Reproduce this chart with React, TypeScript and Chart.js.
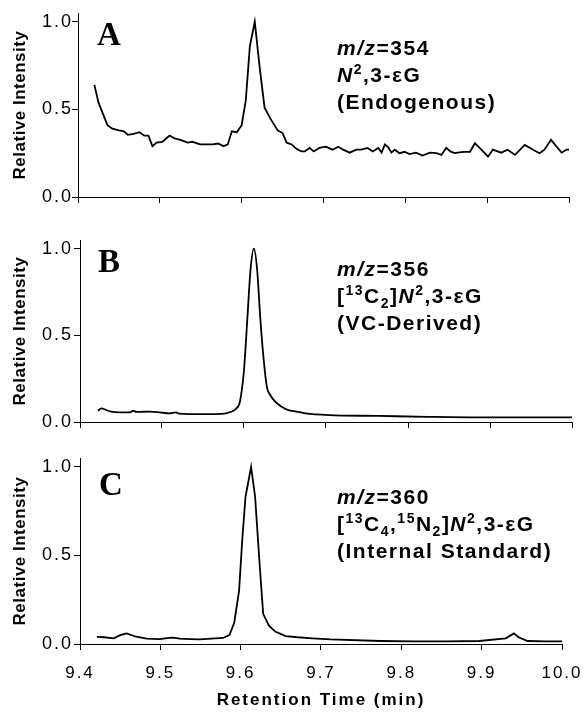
import React, { useEffect, useRef } from 'react';
import { Chart, registerables } from 'chart.js';

Chart.register(...registerables);

// ---------- data ----------
const X_TICKS = [9.4, 9.5, 9.6, 9.7, 9.8, 9.9, 10.0];
const Y_TICKS = [0, 0.5, 1.0];
const X_TITLE = 'Retention Time (min)';
const Y_TITLE = 'Relative Intensity';

const TIME_A = [9.420, 9.425, 9.430, 9.436, 9.442, 9.450, 9.456, 9.461, 9.468, 9.475, 9.481, 9.486, 9.491, 9.496, 9.503, 9.512, 9.518, 9.526, 9.534, 9.540, 9.549, 9.557, 9.565, 9.571, 9.578, 9.583, 9.588, 9.594, 9.600, 9.605, 9.610, 9.616, 9.622, 9.628, 9.636, 9.644, 9.650, 9.655, 9.661, 9.667, 9.673, 9.677, 9.683, 9.688, 9.695, 9.703, 9.711, 9.718, 9.724, 9.732, 9.740, 9.746, 9.754, 9.760, 9.767, 9.771, 9.775, 9.779, 9.783, 9.787, 9.793, 9.799, 9.805, 9.813, 9.821, 9.830, 9.838, 9.844, 9.850, 9.855, 9.860, 9.866, 9.872, 9.879, 9.885, 9.893, 9.901, 9.907, 9.917, 9.925, 9.934, 9.946, 9.956, 9.964, 9.970, 9.978, 9.985, 9.991, 9.997, 10.000];
const INTENSITY_A = [0.64, 0.54, 0.48, 0.41, 0.39, 0.38, 0.375, 0.355, 0.36, 0.37, 0.35, 0.35, 0.29, 0.31, 0.315, 0.35, 0.335, 0.325, 0.31, 0.315, 0.30, 0.30, 0.30, 0.305, 0.29, 0.30, 0.375, 0.37, 0.41, 0.55, 0.86, 1.00, 0.74, 0.51, 0.44, 0.38, 0.365, 0.31, 0.30, 0.275, 0.26, 0.26, 0.28, 0.26, 0.28, 0.287, 0.27, 0.287, 0.27, 0.253, 0.27, 0.27, 0.28, 0.26, 0.28, 0.253, 0.30, 0.285, 0.253, 0.27, 0.25, 0.258, 0.245, 0.253, 0.236, 0.253, 0.25, 0.24, 0.28, 0.26, 0.25, 0.255, 0.258, 0.258, 0.307, 0.27, 0.23, 0.27, 0.253, 0.27, 0.24, 0.297, 0.27, 0.25, 0.27, 0.326, 0.287, 0.253, 0.27, 0.27];

const TIME_B = [9.422, 9.426, 9.432, 9.438, 9.448, 9.461, 9.465, 9.469, 9.485, 9.497, 9.509, 9.517, 9.521, 9.533, 9.549, 9.566, 9.578, 9.584, 9.590, 9.595, 9.600, 9.604, 9.608, 9.612, 9.616, 9.620, 9.624, 9.628, 9.632, 9.638, 9.646, 9.654, 9.664, 9.675, 9.703, 9.764, 9.824, 9.885, 9.945, 10.0];
const INTENSITY_B = [0.065, 0.079, 0.069, 0.06, 0.056, 0.056, 0.065, 0.058, 0.06, 0.056, 0.05, 0.056, 0.048, 0.046, 0.046, 0.046, 0.05, 0.058, 0.075, 0.117, 0.30, 0.59, 0.88, 1.0, 0.88, 0.59, 0.36, 0.20, 0.156, 0.117, 0.088, 0.069, 0.06, 0.05, 0.04, 0.035, 0.03, 0.027, 0.027, 0.027];

const TIME_C = [9.421, 9.430, 9.442, 9.450, 9.458, 9.470, 9.483, 9.499, 9.511, 9.516, 9.524, 9.537, 9.549, 9.578, 9.586, 9.592, 9.598, 9.602, 9.606, 9.613, 9.618, 9.623, 9.628, 9.635, 9.643, 9.656, 9.671, 9.689, 9.712, 9.774, 9.815, 9.856, 9.897, 9.930, 9.940, 9.946, 9.957, 9.980, 10.0];
const INTENSITY_C = [0.04, 0.038, 0.032, 0.05, 0.06, 0.041, 0.03, 0.028, 0.034, 0.036, 0.03, 0.028, 0.026, 0.034, 0.05, 0.12, 0.30, 0.59, 0.83, 1.0, 0.83, 0.49, 0.17, 0.105, 0.07, 0.045, 0.038, 0.032, 0.026, 0.017, 0.015, 0.015, 0.017, 0.032, 0.06, 0.038, 0.017, 0.015, 0.015];

type Run = { t: string; it?: boolean; sup?: boolean; sub?: boolean };

const LABEL_A: Run[][] = [
  [{ t: 'm/z', it: true }, { t: '=354' }],
  [{ t: 'N', it: true }, { t: '2', sup: true }, { t: ',3-εG' }],
  [{ t: '(Endogenous)' }],
];
const LABEL_B: Run[][] = [
  [{ t: 'm/z', it: true }, { t: '=356' }],
  [{ t: '[' }, { t: '13', sup: true }, { t: 'C' }, { t: '2', sub: true }, { t: ']' }, { t: 'N', it: true }, { t: '2', sup: true }, { t: ',3-εG' }],
  [{ t: '(VC-Derived)' }],
];
const LABEL_C: Run[][] = [
  [{ t: 'm/z', it: true }, { t: '=360' }],
  [{ t: '[' }, { t: '13', sup: true }, { t: 'C' }, { t: '4', sub: true }, { t: ',' }, { t: '15', sup: true }, { t: 'N' }, { t: '2', sub: true }, { t: ']' }, { t: 'N', it: true }, { t: '2', sup: true }, { t: ',3-εG' }],
  [{ t: '(Internal Standard)' }],
];

// ---------- styling / layout ----------
const SANS = '"Liberation Sans", Arial, Helvetica, sans-serif';
const SERIF = '"Liberation Serif", "Times New Roman", Times, serif';

type PanelCfg = {
  time: number[];
  value: number[];
  tension: number;
  height: number;
  padTop: number;
  padRight: number;
  yWidth: number;
  yPad: number;
  xHeight: number;
  showX: boolean;
  letter: string;
  letterX: number;
  letterY: number;
  lines: Run[][];
  annX: number;
  annY: number;
};

const PANELS: PanelCfg[] = [
  { time: TIME_A, value: INTENSITY_A, tension: 0, height: 220, padTop: 13, padRight: 14, yWidth: 78, yPad: -1, xHeight: 23, showX: false, letter: 'A', letterX: 97, letterY: 45, lines: LABEL_A, annX: 337, annY: 55 },
  { time: TIME_B, value: INTENSITY_B, tension: 0.4, height: 220, padTop: 20, padRight: 11, yWidth: 80, yPad: 1, xHeight: 18, showX: false, letter: 'B', letterX: 98, letterY: 52, lines: LABEL_B, annX: 337, annY: 56 },
  { time: TIME_C, value: INTENSITY_C, tension: 0, height: 279, padTop: 18, padRight: 21, yWidth: 80, yPad: 1, xHeight: 75, showX: true, letter: 'C', letterX: 99, letterY: 55, lines: LABEL_C, annX: 337, annY: 64 },
];

function patchScale(scale: any, tickSp: string, titleSp: string) {
  if (!scale || scale.__sp) return;
  scale.__sp = true;
  const dl = scale.drawLabels;
  const dt = scale.drawTitle;
  scale.drawLabels = function (area: any) {
    const c = this.ctx;
    c.save();
    c.letterSpacing = tickSp;
    dl.call(this, area);
    c.restore();
  };
  scale.drawTitle = function () {
    const c = this.ctx;
    c.save();
    c.letterSpacing = titleSp;
    dt.call(this);
    c.restore();
  };
}

const spacingPlugin = {
  id: 'letterSpacingPatch',
  beforeDraw(chart: any) {
    patchScale(chart.scales.x, '2px', '2px');
    patchScale(chart.scales.y, '2px', '0.5px');
  },
};

function makeAnnotPlugin(cfg: PanelCfg) {
  return {
    id: 'panelAnnot',
    afterDraw(chart: any) {
      const ctx = chart.ctx as CanvasRenderingContext2D;
      ctx.save();
      ctx.fillStyle = '#000';
      ctx.textAlign = 'left';
      ctx.textBaseline = 'alphabetic';
      (ctx as any).letterSpacing = '0px';
      ctx.font = `bold 33px ${SERIF}`;
      ctx.fillText(cfg.letter, cfg.letterX, cfg.letterY);
      (ctx as any).letterSpacing = '1.5px';
      cfg.lines.forEach((runs, i) => {
        let x = cfg.annX;
        const y = cfg.annY + i * 27;
        runs.forEach((r) => {
          const small = r.sup || r.sub;
          const size = small ? 14 : 21;
          ctx.font = `${r.it ? 'italic ' : ''}bold ${size}px ${SANS}`;
          const dy = r.sup ? -8 : r.sub ? 5 : 0;
          ctx.fillText(r.t, x, y + dy);
          x += ctx.measureText(r.t).width;
        });
      });
      ctx.restore();
    },
  };
}

function Panel({ cfg }: { cfg: PanelCfg }) {
  const ref = useRef<HTMLCanvasElement>(null);
  useEffect(() => {
    if (!ref.current) return;
    const chart = new Chart(ref.current, {
      type: 'line',
      data: {
        datasets: [
          {
            data: cfg.time.map((t, i) => ({ x: t, y: cfg.value[i] })),
            borderColor: '#000',
            borderWidth: 1.8,
            pointRadius: 0,
            tension: cfg.tension,
            cubicInterpolationMode: cfg.tension > 0 ? 'monotone' : 'default',
            fill: false,
          } as any,
        ],
      },
      options: {
        animation: false,
        responsive: false,
        devicePixelRatio: 1,
        events: [],
        layout: { padding: { top: cfg.padTop, right: cfg.padRight, left: 0, bottom: 0 } },
        plugins: { legend: { display: false }, tooltip: { enabled: false }, title: { display: false } },
        scales: {
          x: {
            type: 'linear',
            min: 9.4,
            max: 10.0,
            afterBuildTicks: (s: any) => {
              s.ticks = X_TICKS.map((v) => ({ value: v }));
            },
            afterFit: (s: any) => {
              s.height = cfg.xHeight;
              s.paddingLeft = 0;
              s.paddingRight = 0;
            },
            ticks: {
              display: cfg.showX,
              autoSkip: false,
              maxRotation: 0,
              padding: 13,
              color: '#000',
              font: { family: SANS, size: 17 },
              callback: (v: any) => Number(v).toFixed(1),
            },
            grid: { display: true, drawOnChartArea: false, drawTicks: true, tickLength: 6, color: '#000', lineWidth: 1 },
            border: { display: true, color: '#000', width: 1 },
            title: {
              display: cfg.showX,
              text: X_TITLE,
              color: '#000',
              font: { family: SANS, size: 17, weight: 'bold' },
              padding: { top: 0, bottom: 8 },
            },
          },
          y: {
            type: 'linear',
            min: 0,
            max: 1.05,
            afterBuildTicks: (s: any) => {
              s.ticks = Y_TICKS.map((v) => ({ value: v }));
            },
            afterFit: (s: any) => {
              s.width = cfg.yWidth;
              s.paddingTop = 0;
              s.paddingBottom = 0;
            },
            ticks: {
              padding: cfg.yPad,
              color: '#000',
              font: { family: SANS, size: 18 },
              callback: (v: any) => Number(v).toFixed(1),
            },
            grid: { display: true, drawOnChartArea: false, drawTicks: true, tickLength: 6, color: '#000', lineWidth: 1 },
            border: { display: true, color: '#000', width: 1 },
            title: {
              display: true,
              text: Y_TITLE,
              color: '#000',
              font: { family: SANS, size: 17, weight: 'bold' },
              padding: { top: 10, bottom: 0 },
            },
          },
        },
      } as any,
      plugins: [spacingPlugin, makeAnnotPlugin(cfg)],
    });
    return () => chart.destroy();
  }, [cfg]);
  return <canvas ref={ref} width={583} height={cfg.height} style={{ display: 'block', width: 583, height: cfg.height }} />;
}

export default function App() {
  return (
    <div style={{ position: 'absolute', left: 0, top: 0, width: 583, height: 719, background: '#fff' }}>
      {PANELS.map((p) => (
        <Panel key={p.letter} cfg={p} />
      ))}
    </div>
  );
}
